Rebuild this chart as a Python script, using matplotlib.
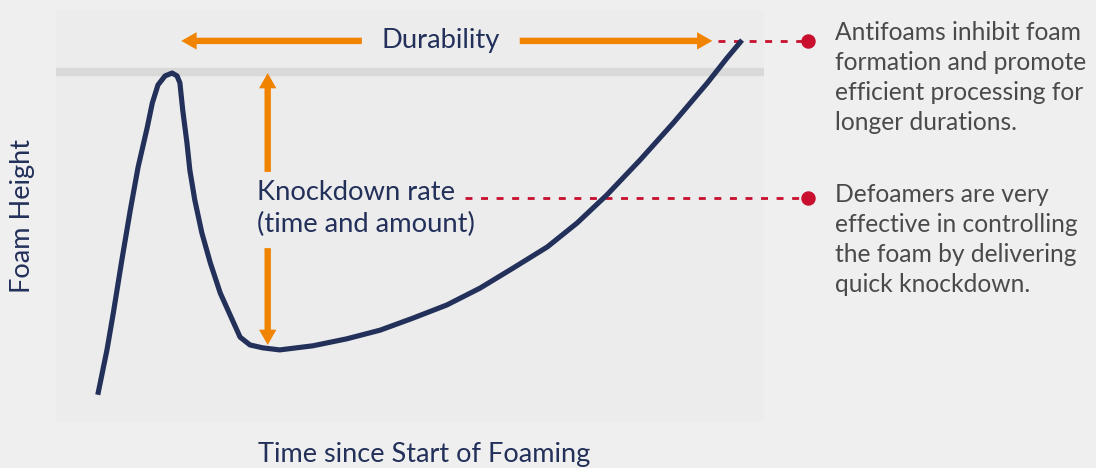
import matplotlib
matplotlib.use("Agg")
import matplotlib.pyplot as plt
from matplotlib.patches import FancyArrowPatch

# foam height curve (arbitrary units, 0-100)
time = [5.9, 7.2, 8.1, 9.3, 10.5, 11.6, 12.9, 13.6, 14.4, 15.4, 16.4,
        17.1, 17.5, 17.9, 18.5, 18.9, 19.6, 20.6, 21.8, 23.2, 24.9, 26.0,
        27.4, 29.2, 31.6,
        36.3, 41.1, 45.8, 50.4, 55.2, 59.9, 64.6, 69.4, 73.6, 77.8, 82.5,
        87.2, 92.0, 94.8, 96.9]
height = [6.6, 17.5, 26.5, 39.3, 51.5, 61.9, 71.6, 77.4, 81.8, 84.0, 84.7,
          84.0, 82.3, 75.7, 67.7, 61.2, 53.9, 45.9, 38.6, 31.3, 24.8, 20.6,
          18.7, 18.0, 17.5,
          18.5, 20.2, 22.3, 25.2, 28.4, 32.5, 37.4, 42.5, 48.3, 55.1, 63.6,
          72.6, 82.3, 88.4, 92.7]

foam_limit = 85.0          # grey band
knockdown_x = 29.9         # vertical arrow position
knockdown_gap = (42.2, 60.7)
durability_gap = (43.2, 65.5)
defoamer_level = 54.4
callout_x = 106.2

antifoam_text = "Antifoams inhibit foam\nformation and promote\nefficient processing for\nlonger durations."
defoamer_text = "Defoamers are very\neffective in controlling\nthe foam by delivering\nquick knockdown."

navy = "#22305a"
orange = "#f08300"
red = "#c8102e"
grey_text = "#4a4a4a"

plt.rcParams['font.family'] = ['Lato', 'DejaVu Sans']

fig = plt.figure(figsize=(10.96, 4.68), dpi=100, facecolor="#efefef")
ax = fig.add_axes([56/1096, 46/468, 708/1096, 412/468])
ax.set_facecolor("#ececec")
ax.set_xlim(0, 100)
ax.set_ylim(0, 100)
for s in ax.spines.values():
    s.set_visible(False)
ax.set_xticks([])
ax.set_yticks([])

# grey limit band
ax.axhline(foam_limit, color="#d9d9d9", lw=6, zorder=1)

# the curve
ax.plot(time, height, color=navy, lw=3.7, solid_joinstyle="round",
        solid_capstyle="butt", zorder=3)


def orange_arrow(start, end):
    arr = FancyArrowPatch(start, end, arrowstyle="simple,head_length=11,head_width=12.5,tail_width=4.6",
                          mutation_scale=1, color=orange, lw=0, shrinkA=0, shrinkB=0,
                          zorder=2, clip_on=False)
    ax.add_patch(arr)


# first foam peak and the knocked-down trough after it
peak_i = height.index(max(height[:20]))
top = height[peak_i]
bottom = min(height[peak_i:]) + 1.2
orange_arrow((knockdown_x, knockdown_gap[1]), (knockdown_x, top))
orange_arrow((knockdown_x, knockdown_gap[0]), (knockdown_x, bottom))

dur_y = height[-1] - 0.2
peak_x = time[peak_i]
orange_arrow((durability_gap[0], dur_y), (peak_x + 1.3, dur_y))
orange_arrow((durability_gap[1], dur_y), (time[-1] - 4.2, dur_y))
ax.text((durability_gap[0] + durability_gap[1]) / 2, dur_y, "Durability",
        ha="center", va="center", fontsize=19.7, color=navy)

ax.text(28.4, 46.1, "Knockdown rate\n(time and amount)", ha="left",
        va="baseline", fontsize=19.7, color=navy, linespacing=1.33)

# red call-outs
dash = (0, (2.5, 3.1))
ax.plot([time[-1] - 3.4, callout_x], [dur_y, dur_y], color=red, lw=2,
        linestyle=dash, clip_on=False, zorder=2)
ax.plot([callout_x], [dur_y], "o", color=red, ms=9.4, clip_on=False)
ax.plot([57.8, callout_x], [defoamer_level, defoamer_level], color=red, lw=2,
        linestyle=dash, clip_on=False, zorder=2)
ax.plot([callout_x], [defoamer_level], "o", color=red, ms=9.4, clip_on=False)

ax.text(110.0, 70.9, antifoam_text, ha="left", va="baseline", fontsize=17.7,
        color=grey_text, linespacing=1.36)
ax.text(110.0, 31.6, defoamer_text, ha="left", va="baseline", fontsize=17.7,
        color=grey_text, linespacing=1.36)

# axis labels
ax.text(-0.048, 0.5, "Foam Height", transform=ax.transAxes, rotation=90,
        ha="center", va="center", fontsize=19.5, color=navy)
ax.text(0.52, -0.08, "Time since Start of Foaming", transform=ax.transAxes,
        ha="center", va="center", fontsize=19.5, color=navy)

fig.savefig("out.png", dpi=100, facecolor=fig.get_facecolor())
